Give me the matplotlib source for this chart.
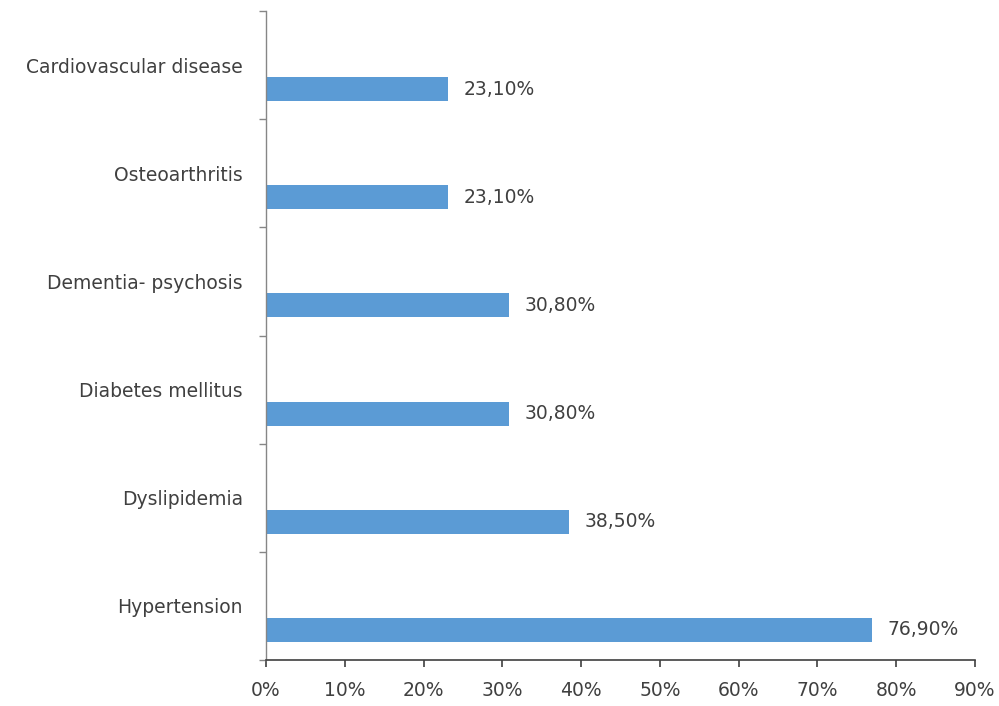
import matplotlib
matplotlib.use("Agg")
import matplotlib.pyplot as plt
import numpy as np

# data, bottom to top as drawn
categories = ["Hypertension", "Dyslipidemia", "Diabetes mellitus",
              "Dementia- psychosis", "Osteoarthritis", "Cardiovascular disease"]
values = [76.9, 38.5, 30.8, 30.8, 23.1, 23.1]
value_labels = ["76,90%", "38,50%", "30,80%", "30,80%", "23,10%", "23,10%"]
xticks = [0, 10, 20, 30, 40, 50, 60, 70, 80, 90]

plt.rcParams["font.family"] = ["DejaVu Sans"]
text_color = "#404040"
fs = 13.5

fig = plt.figure(figsize=(9.99, 7.06), dpi=100)
ax = fig.add_axes([266 / 999, 46 / 706, 709 / 999, 649 / 706])

pos = np.arange(len(categories))
# bars sit in the lower half of each band (Excel-style clustered layout)
ax.barh(pos - 0.222, values, height=0.222, color="#5B9BD5")

for y, v, lab in zip(pos, values, value_labels):
    ax.text(v + 2.0, y - 0.222, lab, va="center", ha="left",
            fontsize=fs, color=text_color)

ax.set_xlim(0, 90)
ax.set_ylim(-0.5, len(categories) - 0.5)

ax.set_xticks(xticks)
ax.set_xticklabels([f"{t}%" for t in xticks], fontsize=fs, color=text_color)
ax.tick_params(axis="x", direction="out", length=5, width=1.2,
               color="#404040", pad=10)

# band boundaries get the tick marks, centres get the labels
ax.set_yticks(np.arange(-0.5, len(categories), 1.0))
ax.set_yticklabels([])
ax.set_yticks(pos, minor=True)
ax.set_yticklabels(categories, minor=True, fontsize=fs, color=text_color)
ax.tick_params(axis="y", which="major", direction="out", length=5,
               width=1.0, color="#868686")
ax.tick_params(axis="y", which="minor", length=0, pad=16.5)

for side in ("top", "right"):
    ax.spines[side].set_visible(False)
ax.spines["left"].set_color("#868686")
ax.spines["left"].set_linewidth(1.0)
ax.spines["bottom"].set_color("#404040")
ax.spines["bottom"].set_linewidth(1.2)

fig.savefig("out.png", dpi=100)
